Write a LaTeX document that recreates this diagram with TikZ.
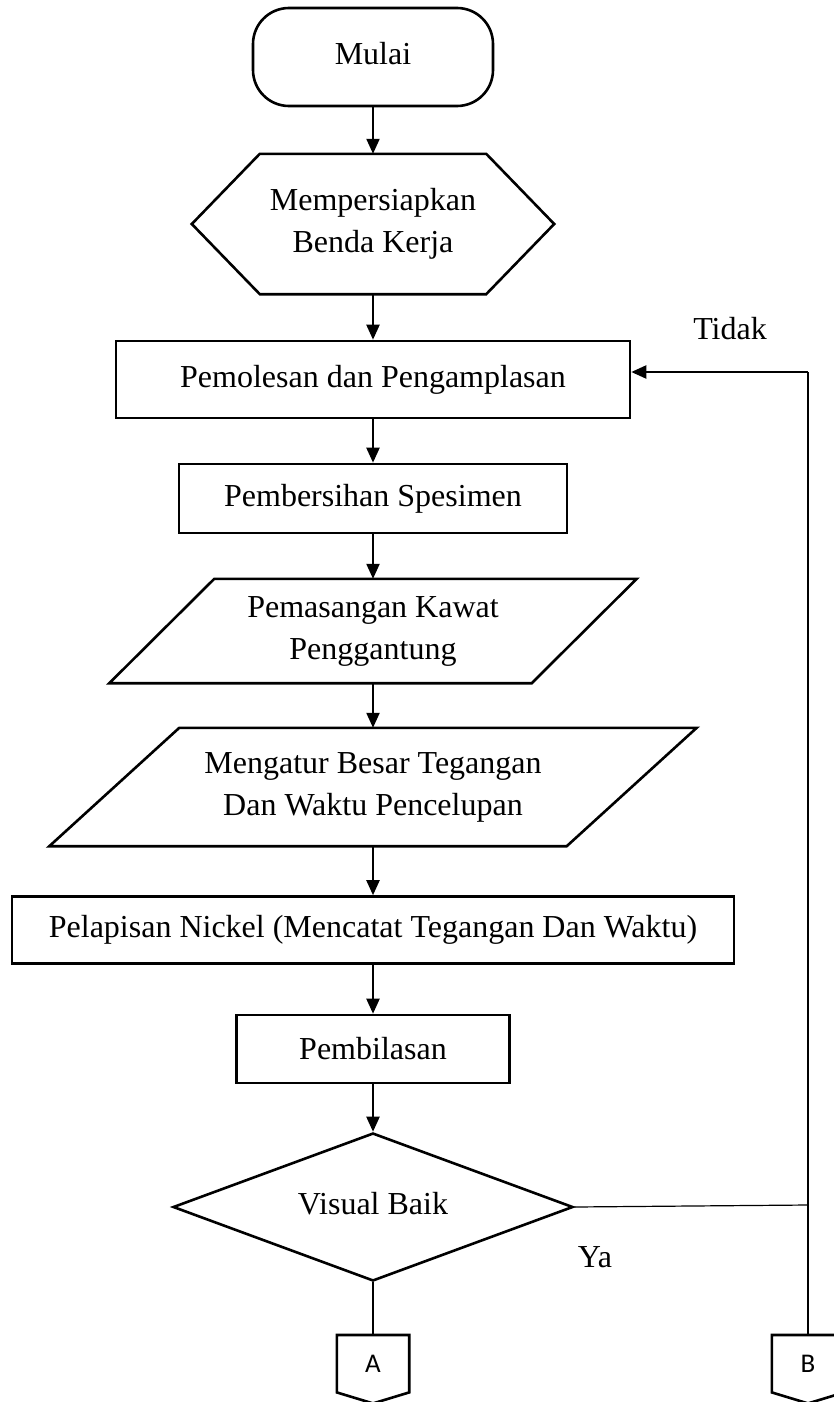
\documentclass[tikz,border=0pt]{standalone}
\usepackage{fontspec}
\setmainfont{Liberation Serif}
\newfontfamily\connfont{Carlito}
\usetikzlibrary{positioning, calc, shapes.geometric, arrows.meta}
\tikzset{
    procbox/.style={
        draw, line width=2.6pt, inner sep=0pt, align=center
    },
    plainbox/.style={
        inner sep=0pt, align=center
    },
    decbox/.style={
        diamond, aspect=2.7, draw, line width=2.6pt, inner sep=0pt, align=center
    },
    outline/.style={
        line width=2.6pt, line join=miter
    },
    flow/.style={
        -{Triangle[length=15pt,width=13pt]}, line width=2.2pt
    },
    thinline/.style={
        line width=1.2pt
    },
    connlabel/.style={
        font=\connfont\fontsize{27}{32}\selectfont
    }
}

\begin{document}
\begin{tikzpicture}[x=1pt, y=-1pt, font=\fontsize{32}{42}\selectfont]
        \useasboundingbox (0,0) rectangle (834,1402);

        % ======================================
        % ALUR UTAMA
        % ======================================
        \node[procbox, rounded corners=36pt, minimum width=240pt, minimum height=98pt, text depth=7pt] (start) at (373,57) {Mulai};

        % Persiapan (heksagon)
        \node[plainbox, minimum width=226pt, minimum height=140pt] (prep) at (373,224) {Mempersiapkan\\Benda Kerja};
        \draw[outline] (prep.north west) -- (prep.north east) -- ($(prep.east)+(68,0)$)
            -- (prep.south east) -- (prep.south west) -- ($(prep.west)+(-68,0)$) -- cycle;

        \node[procbox, minimum width=514pt, minimum height=77pt] (polish) at (373,379.5) {Pemolesan dan Pengamplasan};
        \node[procbox, minimum width=388pt, minimum height=69pt] (clean) at (373,498.5) {Pembersihan Spesimen};

        % Input (jajaran genjang)
        \node[plainbox, minimum width=422pt, minimum height=104pt] (wire) at (373,631) {Pemasangan Kawat\\Penggantung};
        \draw[outline] ($(wire.north west)+(52.5,0)$) -- ($(wire.north east)+(52.5,0)$)
            -- ($(wire.south east)+(-52.5,0)$) -- ($(wire.south west)+(-52.5,0)$) -- cycle;

        \node[plainbox, minimum width=517pt, minimum height=118pt] (setup) at (373,787) {Mengatur Besar Tegangan\\Dan Waktu Pencelupan};
        \draw[outline] ($(setup.north west)+(65,0)$) -- ($(setup.north east)+(65,0)$)
            -- ($(setup.south east)+(-65,0)$) -- ($(setup.south west)+(-65,0)$) -- cycle;

        \node[procbox, minimum width=722pt, minimum height=67pt] (plate) at (373,930) {Pelapisan Nickel (Mencatat Tegangan Dan Waktu)};
        \node[procbox, minimum width=273pt, minimum height=68pt] (rinse) at (373,1049) {Pembilasan};

        \node[decbox, minimum width=400pt, minimum height=148pt, text depth=7pt] (check) at (373,1207) {Visual Baik};

        % Konektor A dan B
        \node[plainbox, connlabel, minimum width=72pt, minimum height=57pt, anchor=north] (offA) at (373,1335) {A};
        \draw[outline] (offA.north west) -- (offA.north east) -- (offA.south east)
            -- ($(offA.south)+(0,11)$) -- (offA.south west) -- cycle;
        \node[plainbox, connlabel, minimum width=72pt, minimum height=57pt, anchor=north] (offB) at (808,1335) {B};
        \draw[outline] (offB.north west) -- (offB.north east) -- (offB.south east)
            -- ($(offB.south)+(0,11)$) -- (offB.south west) -- cycle;

        % Panah
        \draw[flow] (start) -- (prep);
        \draw[flow] (prep) -- (polish);
        \draw[flow] (polish) -- (clean);
        \draw[flow] (clean) -- (wire);
        \draw[flow] (wire) -- (setup);
        \draw[flow] (setup) -- (plate);
        \draw[flow] (plate) -- (rinse);
        \draw[flow] (rinse) -- (check);

        % Cabang Ya / Tidak
        \coordinate (junc) at (808,1205);
        \coordinate (turn) at (808,372);
        \draw[thinline] (check.east) -- (junc);
        \draw[thinline] (check.south) -- (offA.north);
        \draw[thinline] (offB.north) -- (turn);
        \draw[flow] (turn) -- (turn -| polish.east);

        \node[anchor=base] (tidak) at (730,339) {Tidak};
        \node[anchor=base] (ya) at (595,1267) {Ya};

    \end{tikzpicture}
\end{document}
